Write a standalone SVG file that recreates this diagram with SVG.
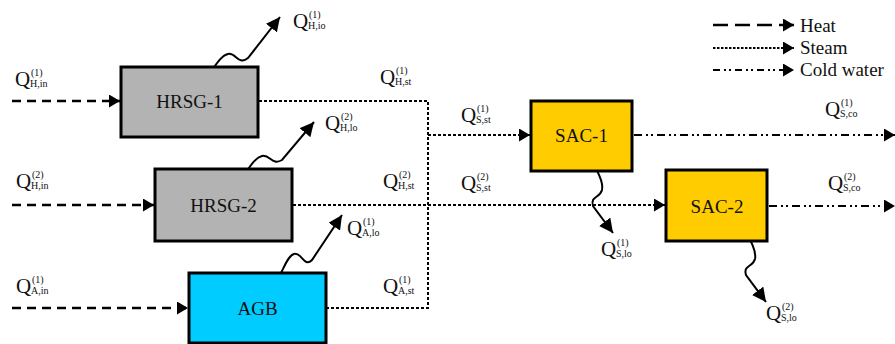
<svg xmlns="http://www.w3.org/2000/svg" width="895" height="344" viewBox="0 0 895 344">
<style>
.box{stroke:#000;stroke-width:3}
.hrsg{fill:#b3b3b3}
.agb{fill:#00ccff}
.sac{fill:#ffcc00}
.name{font-family:"Liberation Serif","Times New Roman",serif;font-size:19px;text-anchor:middle;fill:#111}
.heat{fill:none;stroke:#000;stroke-width:2.5;stroke-dasharray:9 6}
.steam{fill:none;stroke:#000;stroke-width:2;stroke-dasharray:3 2}
.cold{fill:none;stroke:#000;stroke-width:2;stroke-dasharray:8 4 2 3 2 4}
.wave{fill:none;stroke:#000;stroke-width:2}
.q{font-family:"Liberation Serif","Times New Roman",serif;font-size:21px;fill:#111}
.s{font-family:"Liberation Serif","Times New Roman",serif;font-size:10px;fill:#111}
.leg{font-family:"Liberation Serif","Times New Roman",serif;font-size:19px;fill:#111}
</style>
<defs>
<marker id="ah" markerUnits="userSpaceOnUse" markerWidth="12" markerHeight="13" refX="11" refY="6.5" orient="auto" viewBox="0 0 12 13">
<path d="M0,0 L11,6.5 L0,13 Z" fill="#000"/>
</marker>
<marker id="aw" markerUnits="userSpaceOnUse" markerWidth="15" markerHeight="14" refX="14" refY="7" orient="auto" viewBox="0 0 15 14">
<path d="M0,0 L14,7 L0,14 Z" fill="#000"/>
</marker>
</defs>

<g id="connectors">
<path class="heat" d="M12,101 H120" marker-end="url(#ah)"/>
<path class="heat" d="M12,205 H154" marker-end="url(#ah)"/>
<path class="heat" d="M12,308 H188" marker-end="url(#ah)"/>
<path class="steam" d="M259,101 H428 V308 H327"/>
<path class="steam" d="M428,135 H530" marker-end="url(#ah)"/>
<path class="steam" d="M293,205 H665" marker-end="url(#ah)"/>
<path class="cold" d="M634,135 H895" marker-end="url(#ah)"/>
<path class="cold" d="M769,206 H895" marker-end="url(#ah)"/>
<path class="wave" d="M208,76 C214,68 220,56 228,54 C236,52 238,66 248,58 L280,17" marker-end="url(#aw)"/>
<path class="wave" d="M242,178 C248,170 254,158 262,156 C270,154 272,166 282,160 L314,122" marker-end="url(#aw)"/>
<path class="wave" d="M275,282 C282,276 286,256 294,254 C302,252 304,268 312,260 L342,215" marker-end="url(#aw)"/>
<path class="wave" d="M589,157 C594,166 604,180 602,190 C600,198 590,196 593,206 L613,233" marker-end="url(#aw)"/>
<path class="wave" d="M742,226 C747,235 757,249 755,259 C753,267 743,265 746,275 L766,302" marker-end="url(#aw)"/>
</g>

<g id="HRSG-1"><rect class="box hrsg" x="121" y="67" width="137" height="70"/><text class="name" x="189.5" y="108">HRSG-1</text></g>
<g id="HRSG-2"><rect class="box hrsg" x="155" y="169" width="137" height="72"/><text class="name" x="223.5" y="212">HRSG-2</text></g>
<g id="AGB"><rect class="box agb" x="189" y="273" width="137" height="70"/><text class="name" x="257.5" y="315">AGB</text></g>
<g id="SAC-1"><rect class="box sac" x="531" y="101" width="101" height="70"/><text class="name" x="581.5" y="142">SAC-1</text></g>
<g id="SAC-2"><rect class="box sac" x="666" y="170" width="101" height="71"/><text class="name" x="717" y="213">SAC-2</text></g>

<g id="labels">
<g transform="translate(15,86)"><text class="q">Q</text><text class="s" x="16" y="-10">(1)</text><text class="s" x="15" y="1">H,in</text></g>
<g transform="translate(293,28)"><text class="q">Q</text><text class="s" x="16" y="-10">(1)</text><text class="s" x="15" y="1">H,io</text></g>
<g transform="translate(380,84)"><text class="q">Q</text><text class="s" x="16" y="-10">(1)</text><text class="s" x="15" y="1">H,st</text></g>
<g transform="translate(325,130)"><text class="q">Q</text><text class="s" x="16" y="-10">(2)</text><text class="s" x="15" y="1">H,lo</text></g>
<g transform="translate(16,188)"><text class="q">Q</text><text class="s" x="16" y="-10">(2)</text><text class="s" x="15" y="1">H,in</text></g>
<g transform="translate(383,188)"><text class="q">Q</text><text class="s" x="16" y="-10">(2)</text><text class="s" x="15" y="1">H,st</text></g>
<g transform="translate(347,235)"><text class="q">Q</text><text class="s" x="16" y="-10">(1)</text><text class="s" x="15" y="1">A,lo</text></g>
<g transform="translate(16,293)"><text class="q">Q</text><text class="s" x="16" y="-10">(1)</text><text class="s" x="15" y="1">A,in</text></g>
<g transform="translate(383,293)"><text class="q">Q</text><text class="s" x="16" y="-10">(1)</text><text class="s" x="15" y="1">A,st</text></g>
<g transform="translate(461,122)"><text class="q">Q</text><text class="s" x="16" y="-10">(1)</text><text class="s" x="15" y="1">S,st</text></g>
<g transform="translate(461,190)"><text class="q">Q</text><text class="s" x="16" y="-10">(2)</text><text class="s" x="15" y="1">S,st</text></g>
<g transform="translate(825,116)"><text class="q">Q</text><text class="s" x="16" y="-10">(1)</text><text class="s" x="15" y="1">S,co</text></g>
<g transform="translate(828,190)"><text class="q">Q</text><text class="s" x="16" y="-10">(2)</text><text class="s" x="15" y="1">S,co</text></g>
<g transform="translate(601,256)"><text class="q">Q</text><text class="s" x="16" y="-10">(1)</text><text class="s" x="15" y="1">S,lo</text></g>
<g transform="translate(766,320)"><text class="q">Q</text><text class="s" x="16" y="-10">(2)</text><text class="s" x="15" y="1">S,lo</text></g>
</g>

<g id="legend">
<path fill="none" stroke="#000" stroke-width="2.5" stroke-dasharray="15 7" d="M713,25 H794" marker-end="url(#ah)"/>
<path fill="none" stroke="#000" stroke-width="1.8" stroke-dasharray="2.5 1.5" d="M713,48 H794" marker-end="url(#ah)"/>
<path fill="none" stroke="#000" stroke-width="2" stroke-dasharray="7 4 2 3 2 4" d="M713,70 H794" marker-end="url(#ah)"/>
<text class="leg" x="800" y="32">Heat</text>
<text class="leg" x="800" y="54">Steam</text>
<text class="leg" x="800" y="76">Cold water</text>
</g>
</svg>
